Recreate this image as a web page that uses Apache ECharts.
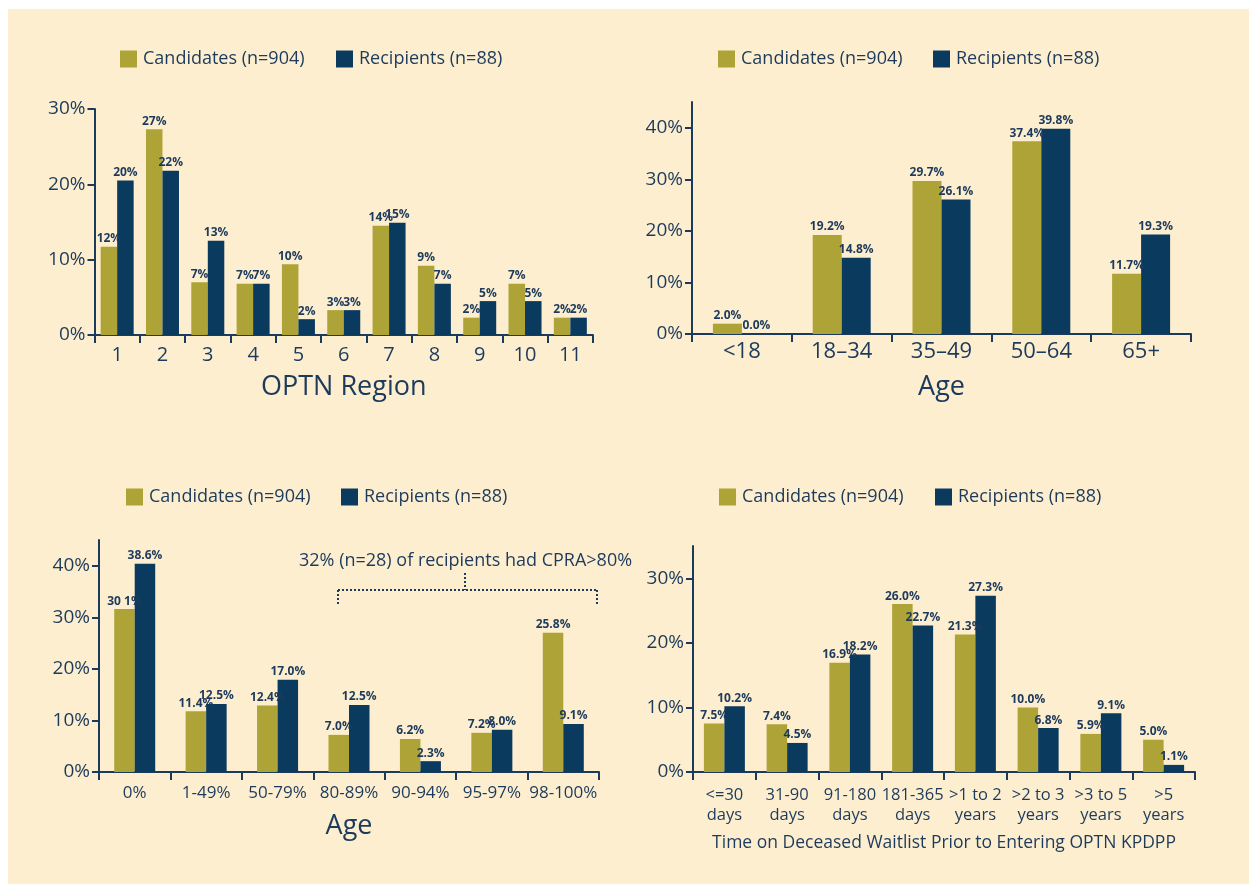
<!DOCTYPE html>
<html>
<head>
<meta charset="utf-8">
<script src="https://cdn.jsdelivr.net/npm/echarts@6/dist/echarts.min.js"></script>
<style>
  html, body { margin: 0; padding: 0; background: #ffffff; }
  #bg { position: absolute; left: 8px; top: 9px; right: 0; bottom: 0; background: #fdeecf; }
  #chart { position: absolute; left: 0; top: 0; width: 1249px; height: 884px; }
</style>
</head>
<body>
<div id="bg"></div>
<div id="chart"></div>
<script>
const CAND_NAME = "Candidates (n=904)";
const REC_NAME = "Recipients (n=88)";

// OPTN region (bar heights, labels as printed)
const regions = ["1", "2", "3", "4", "5", "6", "7", "8", "9", "10", "11"];
const regionCand = [11.7, 27.3, 7.0, 6.8, 9.4, 3.3, 14.5, 9.2, 2.3, 6.8, 2.3];
const regionRec = [20.5, 21.8, 12.5, 6.8, 2.1, 3.3, 14.9, 6.8, 4.5, 4.5, 2.3];
const regionCandLabels = ["12%", "27%", "7%", "7%", "10%", "3%", "14%", "9%", "2%", "7%", "2%"];
const regionRecLabels = ["20%", "22%", "13%", "7%", "2%", "3%", "15%", "7%", "5%", "5%", "2%"];

// Age
const ages = ["<18", "18\u201334", "35\u201349", "50\u201364", "65+"];
const ageCand = [2.0, 19.2, 29.7, 37.4, 11.7];
const ageRec = [0.0, 14.8, 26.1, 39.8, 19.3];

// CPRA
const cpra = ["0%", "1-49%", "50-79%", "80-89%", "90-94%", "95-97%", "98-100%"];
const cpraCand = [31.6, 11.8, 12.9, 7.2, 6.4, 7.6, 27.0];
const cpraRec = [40.4, 13.2, 17.9, 13.0, 2.1, 8.2, 9.3];
const cpraCandLabels = ["30 1%", "11.4%", "12.4%", "7.0%", "6.2%", "7.2%", "25.8%"];
const cpraRecLabels = ["38.6%", "12.5%", "17.0%", "12.5%", "2.3%", "8.0%", "9.1%"];

// Time on waitlist
const waits = ["<=30\ndays", "31-90\ndays", "91-180\ndays", "181-365\ndays", ">1 to 2\nyears", ">2 to 3\nyears", ">3 to 5\nyears", ">5\nyears"];
const waitCand = [7.5, 7.4, 16.9, 26.0, 21.3, 10.0, 5.9, 5.0];
const waitRec = [10.2, 4.5, 18.2, 22.7, 27.3, 6.8, 9.1, 1.1];

const TEXT = "#1c3a5c";
const OLIVE = "#ada337";
const NAVY = "#0b3a5f";
const FONT = "Open Sans";

const chart = echarts.init(document.getElementById("chart"));

function legendPair(candLeft, recLeft, top) {
  return [CAND_NAME, REC_NAME].map((name, i) => ({
    data: [name],
    left: i === 0 ? candLeft : recLeft,
    top: top,
    padding: 0,
    icon: "rect",
    itemWidth: 17,
    itemHeight: 17,
    selectedMode: false,
    textStyle: { color: TEXT, fontSize: 18, fontFamily: FONT, padding: [0, 0, 0, 1] },
  }));
}

function xAxisFor(gridIndex, cats, fontSize, margin, name, nameSize, nameGap, lineHeight) {
  return {
    type: "category",
    gridIndex: gridIndex,
    data: cats,
    axisLine: { lineStyle: { color: TEXT, width: 2 } },
    axisTick: { show: true, length: 8, lineStyle: { color: TEXT, width: 2 } },
    axisLabel: {
      interval: 0,
      color: TEXT,
      fontSize: fontSize,
      fontFamily: FONT,
      margin: margin,
      lineHeight: lineHeight || fontSize,
    },
    name: name,
    nameLocation: "middle",
    nameGap: nameGap,
    nameTextStyle: { color: TEXT, fontSize: nameSize, fontFamily: FONT },
  };
}

function yAxisFor(gridIndex, max, ticks) {
  return {
    type: "value",
    gridIndex: gridIndex,
    min: 0,
    max: max,
    interval: 10,
    splitLine: { show: false },
    axisLine: { show: true, lineStyle: { color: TEXT, width: 2 } },
    axisTick: { show: true, length: 7, customValues: ticks, lineStyle: { color: TEXT, width: 2 } },
    axisLabel: {
      color: TEXT,
      fontSize: 19,
      fontFamily: FONT,
      margin: 9,
      customValues: ticks,
      formatter: (v) => `${v}%`,
    },
  };
}

function barSeries(name, axisIndex, data, color, width, labels) {
  return {
    name: name,
    type: "bar",
    xAxisIndex: axisIndex,
    yAxisIndex: axisIndex,
    data: data,
    barWidth: width,
    barGap: "0%",
    itemStyle: { color: color },
    label: {
      show: true,
      position: "top",
      distance: 2,
      color: TEXT,
      fontSize: 12,
      fontWeight: "bold",
      fontFamily: FONT,
      formatter: (p) => (labels ? labels[p.dataIndex] : `${Number(p.value).toFixed(1)}%`),
    },
  };
}

const dotted = { stroke: TEXT, lineWidth: 2, lineDash: [2, 2] };

chart.setOption({
  backgroundColor: "transparent",
  animation: false,
  legend: [
    ...legendPair(120, 336, 50),
    ...legendPair(718, 933, 50),
    ...legendPair(126, 341, 488),
    ...legendPair(719, 935, 488),
  ],
  grid: [
    { left: 94.5, top: 109, width: 498.5, height: 226 },
    { left: 692, top: 102, width: 499, height: 232 },
    { left: 99, top: 540, width: 500, height: 232 },
    { left: 693, top: 546, width: 502, height: 226 },
  ],
  xAxis: [
    xAxisFor(0, regions, 20, 10, "OPTN Region", 27, 39),
    xAxisFor(1, ages, 22, 7, "Age", 27, 40),
    xAxisFor(2, cpra, 17, 13, "Age", 27, 41),
    xAxisFor(3, waits, 16.5, 13, "Time on Deceased Waitlist Prior to Entering OPTN KPDPP", 17.5, 62, 20),
  ],
  yAxis: [
    yAxisFor(0, 30, [0, 10, 20, 30]),
    yAxisFor(1, 45, [0, 10, 20, 30, 40]),
    yAxisFor(2, 45, [0, 10, 20, 30, 40]),
    yAxisFor(3, 35, [0, 10, 20, 30]),
  ],
  series: [
    barSeries(CAND_NAME, 0, regionCand, OLIVE, 16.5, regionCandLabels),
    barSeries(REC_NAME, 0, regionRec, NAVY, 16.5, regionRecLabels),
    barSeries(CAND_NAME, 1, ageCand, OLIVE, 29),
    barSeries(REC_NAME, 1, ageRec, NAVY, 29),
    barSeries(CAND_NAME, 2, cpraCand, OLIVE, 20.5, cpraCandLabels),
    barSeries(REC_NAME, 2, cpraRec, NAVY, 20.5, cpraRecLabels),
    barSeries(CAND_NAME, 3, waitCand, OLIVE, 20.5),
    barSeries(REC_NAME, 3, waitRec, NAVY, 20.5),
  ],
  graphic: [
    {
      type: "text",
      left: 299,
      top: 552,
      style: {
        text: "32% (n=28) of recipients had CPRA>80%",
        fill: TEXT,
        font: `18px "${FONT}"`,
      },
    },
    { type: "line", shape: { x1: 338, y1: 590, x2: 597, y2: 590 }, style: dotted },
    { type: "line", shape: { x1: 338, y1: 590, x2: 338, y2: 605 }, style: dotted },
    { type: "line", shape: { x1: 597, y1: 590, x2: 597, y2: 605 }, style: dotted },
    { type: "line", shape: { x1: 465, y1: 573, x2: 465, y2: 590 }, style: dotted },
  ],
});

window.addEventListener("resize", () => chart.resize());
</script>
</body>
</html>
